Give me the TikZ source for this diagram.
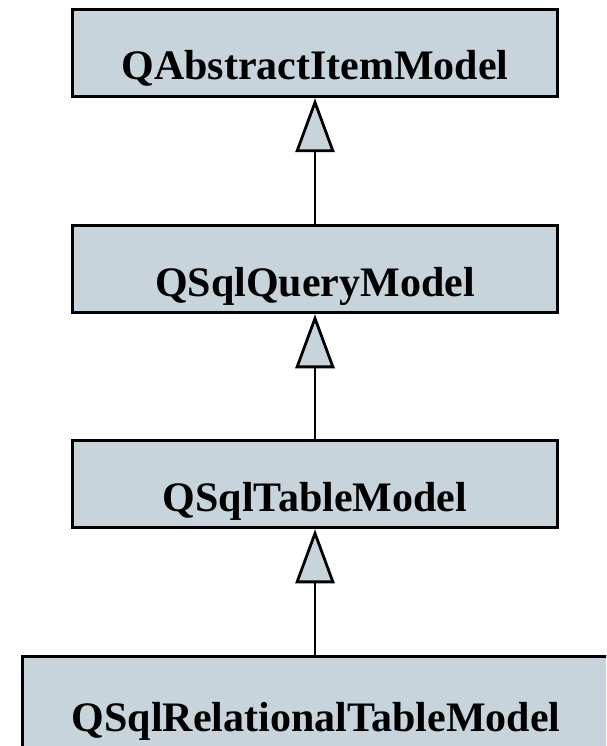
\documentclass[tikz,border=0pt]{standalone}
\usepackage{fontspec}
\setmainfont{Liberation Serif}
\usetikzlibrary{arrows.meta}
\definecolor{DoxyFill}{HTML}{C8D4DC}
\colorlet{DoxyLine}{black}
\tikzset{
  ClassBox/.style={
      draw=DoxyLine, fill=DoxyFill, line width=3pt,
      minimum width=#1, minimum height=87.5pt, inner sep=0pt,
      text height=54pt, text depth=0pt,
      font=\fontsize{42}{42}\selectfont\bfseries
    },
  ClassBox/.default=485pt,
  Inherits/.style={
      draw=DoxyLine, line width=2.8pt,
      -{Triangle[length=54pt,width=39pt,fill=DoxyFill]}
    }
}

\begin{document}
\begin{tikzpicture}[x=1pt,y=-1pt]
  \useasboundingbox (0,0) rectangle (606,746);
  \clip (0,0) rectangle (606,746);

  \node[ClassBox] (abstractmodel) at (315,53) {QAbstractItemModel};
  \node[ClassBox] (querymodel) at (315,269) {QSqlQueryModel};
  \node[ClassBox] (tablemodel) at (315,484) {QSqlTableModel};
  \node[ClassBox=587pt, minimum height=100pt, text height=50pt] (relmodel) at (316,706) {QSqlRelationalTableModel};

  % inheritance
  \draw[Inherits] (querymodel.north) -- (abstractmodel.south);
  \draw[Inherits] (tablemodel.north) -- (querymodel.south);
  \draw[Inherits] (relmodel.north -| tablemodel.south) -- (tablemodel.south);
\end{tikzpicture}
\end{document}
